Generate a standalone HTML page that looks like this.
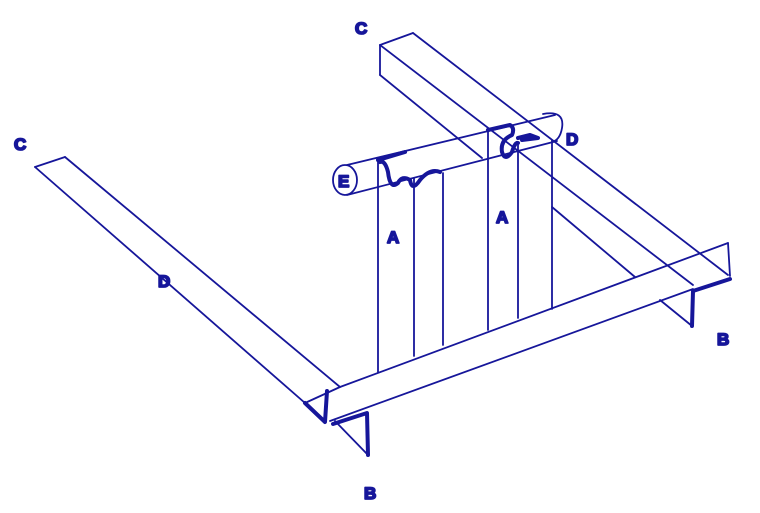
<!DOCTYPE html>
<html><head><style>body{margin:0;background:#fff}svg{display:block}text{font-family:"Liberation Sans",sans-serif;font-weight:bold;font-size:17px;fill:#16169a}</style></head><body>
<svg width="760" height="513" viewBox="0 0 760 513" fill="none" stroke="#16169a" stroke-width="1.8" stroke-linecap="round" stroke-linejoin="round">
<line x1="35" y1="167" x2="65" y2="157"/>
<line x1="35" y1="167" x2="305" y2="403"/>
<line x1="65" y1="157" x2="340" y2="387"/>
<line x1="380" y1="45" x2="413" y2="33"/>
<line x1="380" y1="45" x2="380" y2="75"/>
<line x1="413" y1="33" x2="728" y2="275"/>
<line x1="380" y1="45" x2="693" y2="285"/>
<line x1="380" y1="75" x2="482" y2="158"/>
<line x1="552" y1="207" x2="635" y2="277"/>
<line x1="305" y1="403" x2="340" y2="387"/>
<line x1="340" y1="387" x2="728" y2="243"/>
<line x1="330" y1="421" x2="693" y2="289"/>
<line x1="728" y1="243" x2="730" y2="276"/>
<line x1="692" y1="326" x2="660" y2="300"/>
<line x1="368" y1="455" x2="335" y2="421"/>
<g stroke-width="4">
<polyline points="730,279 693,291 692,326"/>
<polyline points="305,403 325,422 327,391"/>
<polyline points="333,424 367,413 368,455"/>
</g>
<line x1="378" y1="160" x2="378" y2="372"/>
<line x1="414" y1="178" x2="414" y2="356"/>
<line x1="443" y1="173" x2="443" y2="345"/>
<line x1="488" y1="130" x2="488" y2="330"/>
<line x1="518" y1="145" x2="518" y2="318"/>
<line x1="552" y1="140" x2="552" y2="309"/>
<line x1="347" y1="165" x2="555" y2="115"/>
<line x1="347" y1="195" x2="557" y2="141"/>
<ellipse cx="345" cy="180" rx="12" ry="15"/>
<path d="M543,114 Q565,110 562,128 Q560,140 552,142" />
<g stroke-width="4">
<path d="M378,160 L405,152 M380,162 Q385,160 388,172 Q390,190 398,183 Q402,175 410,180 Q412,192 420,180 Q430,168 440,172"/>
<path d="M488,130 L510,125 Q515,128 512,135 Q500,140 502,152 Q505,162 512,152 Q515,142 518,143 M518,138 L530,135 L538,138 L522,140"/>
</g>
<text x="14" y="150">C</text>
<text x="355" y="34">C</text>
<text x="158" y="287">D</text>
<text x="387" y="243">A</text>
<text x="496" y="223">A</text>
<text x="566" y="145">D</text>
<text x="338" y="187">E</text>
<text x="717" y="345">B</text>
<text x="364" y="499">B</text>
</svg>
</body></html>
